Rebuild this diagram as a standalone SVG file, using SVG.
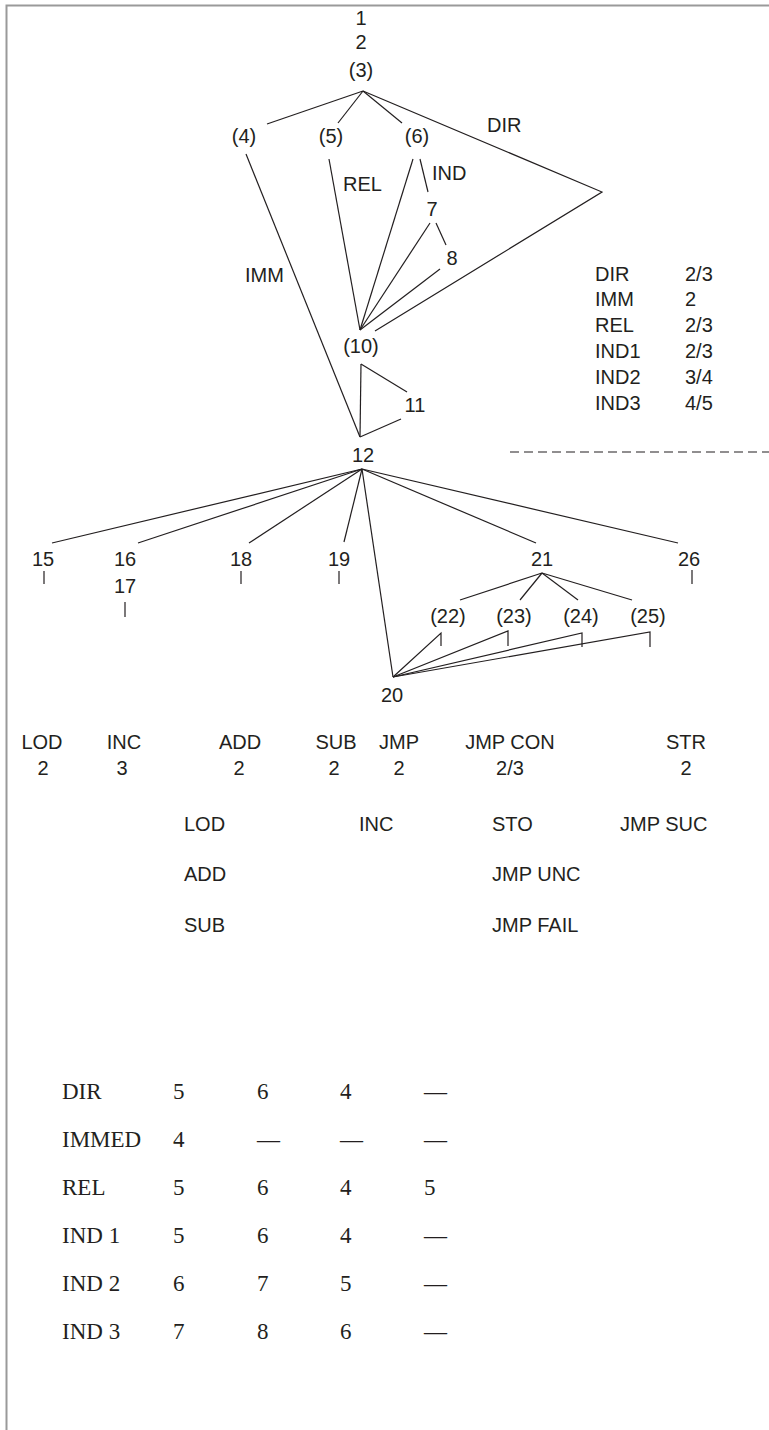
<svg xmlns="http://www.w3.org/2000/svg" width="769" height="1430" viewBox="0 0 769 1430">
<style>
.s{font-family:"Liberation Sans",Arial,sans-serif;font-size:20px;fill:#231f20}
.c{text-anchor:middle}
.t{font-family:"Liberation Serif","Times New Roman",serif;font-size:23px;fill:#231f20}
.ln{stroke:#231f20;stroke-width:1.2;fill:none}
.fr{stroke:#9a9a9a;stroke-width:2;fill:none}
</style>
<rect width="769" height="1430" fill="#fff"/>
<path class="fr" d="M6.5,1430 V5.5 H769"/>
<g id="connectors" class="ln">
<line x1="363" y1="91" x2="267" y2="124"/>
<line x1="363" y1="91" x2="338" y2="123"/>
<line x1="363" y1="91" x2="402" y2="123"/>
<polyline points="363,91 602,192 375,331"/>
<line x1="246" y1="154" x2="360" y2="437"/>
<line x1="329" y1="159" x2="360" y2="330"/>
<line x1="413" y1="159" x2="360" y2="330"/>
<line x1="420" y1="159" x2="428" y2="192"/>
<line x1="430" y1="223" x2="360" y2="330"/>
<line x1="436" y1="223" x2="446" y2="245"/>
<line x1="440" y1="269" x2="360" y2="330"/>
<line x1="361" y1="364" x2="407" y2="392"/>
<line x1="361" y1="364" x2="360" y2="437"/>
<line x1="360" y1="437" x2="401" y2="419"/>
<line x1="362" y1="469" x2="52" y2="543"/>
<line x1="362" y1="469" x2="138" y2="543"/>
<line x1="362" y1="469" x2="249" y2="543"/>
<line x1="362" y1="469" x2="344" y2="542"/>
<line x1="362" y1="469" x2="393" y2="677"/>
<line x1="362" y1="469" x2="536" y2="543"/>
<line x1="362" y1="469" x2="678" y2="543"/>
<line x1="44" y1="571" x2="44" y2="584"/>
<line x1="241" y1="571" x2="241" y2="584"/>
<line x1="339" y1="571" x2="339" y2="584"/>
<line x1="125" y1="602" x2="125" y2="617"/>
<line x1="692" y1="570" x2="692" y2="584"/>
<line x1="542" y1="573" x2="460" y2="600"/>
<line x1="542" y1="573" x2="520" y2="600"/>
<line x1="542" y1="573" x2="578" y2="600"/>
<line x1="542" y1="573" x2="632" y2="600"/>
<polyline points="393,677 441,633 441,646"/>
<polyline points="393,677 508,631 508,646"/>
<polyline points="393,677 582,633 582,647"/>
<polyline points="393,677 650,632 650,647"/>
<line x1="510" y1="452" x2="769" y2="452" stroke-dasharray="9 5"/>
</g>
<g id="n1"><text class="s c" x="361" y="25">1</text></g>
<g id="n2"><text class="s c" x="361" y="49">2</text></g>
<g id="n3"><text class="s c" x="361" y="77">(3)</text></g>
<g id="n4"><text class="s c" x="244" y="143">(4)</text></g>
<g id="n5"><text class="s c" x="331" y="143">(5)</text></g>
<g id="n6"><text class="s c" x="417" y="143">(6)</text></g>
<g id="lbl-dir"><text class="s" x="487" y="132">DIR</text></g>
<g id="lbl-ind"><text class="s" x="432" y="180">IND</text></g>
<g id="lbl-rel"><text class="s" x="343" y="191">REL</text></g>
<g id="n7"><text class="s c" x="432" y="216">7</text></g>
<g id="n8"><text class="s c" x="452" y="265">8</text></g>
<g id="lbl-imm"><text class="s" x="245" y="282">IMM</text></g>
<g id="n10"><text class="s c" x="361" y="353">(10)</text></g>
<g id="n11"><text class="s c" x="415" y="412">11</text></g>
<g id="n12"><text class="s c" x="363" y="462">12</text></g>
<g id="legend">
<text class="s" x="595" y="281">DIR</text><text class="s" x="685" y="281">2/3</text>
<text class="s" x="595" y="306">IMM</text><text class="s" x="685" y="306">2</text>
<text class="s" x="595" y="332">REL</text><text class="s" x="685" y="332">2/3</text>
<text class="s" x="595" y="358">IND1</text><text class="s" x="685" y="358">2/3</text>
<text class="s" x="595" y="384">IND2</text><text class="s" x="685" y="384">3/4</text>
<text class="s" x="595" y="410">IND3</text><text class="s" x="685" y="410">4/5</text>
</g>
<g id="n15"><text class="s c" x="43" y="566">15</text></g>
<g id="n16"><text class="s c" x="125" y="566">16</text></g>
<g id="n17"><text class="s c" x="125" y="593">17</text></g>
<g id="n18"><text class="s c" x="241" y="566">18</text></g>
<g id="n19"><text class="s c" x="339" y="566">19</text></g>
<g id="n21"><text class="s c" x="542" y="566">21</text></g>
<g id="n26"><text class="s c" x="689" y="566">26</text></g>
<g id="n22"><text class="s c" x="448" y="623">(22)</text></g>
<g id="n23"><text class="s c" x="514" y="623">(23)</text></g>
<g id="n24"><text class="s c" x="581" y="623">(24)</text></g>
<g id="n25"><text class="s c" x="648" y="623">(25)</text></g>
<g id="n20"><text class="s c" x="392" y="702">20</text></g>
<g id="ops">
<text class="s c" x="42" y="749">LOD</text><text class="s c" x="43" y="775">2</text>
<text class="s c" x="124" y="749">INC</text><text class="s c" x="122" y="775">3</text>
<text class="s c" x="240" y="749">ADD</text><text class="s c" x="239" y="775">2</text>
<text class="s c" x="336" y="749">SUB</text><text class="s c" x="334" y="775">2</text>
<text class="s c" x="399" y="749">JMP</text><text class="s c" x="399" y="775">2</text>
<text class="s c" x="510" y="749">JMP CON</text><text class="s c" x="510" y="775">2/3</text>
<text class="s c" x="686" y="749">STR</text><text class="s c" x="686" y="775">2</text>
<text class="s" x="184" y="831">LOD</text>
<text class="s" x="359" y="831">INC</text>
<text class="s" x="492" y="831">STO</text>
<text class="s" x="620" y="831">JMP SUC</text>
<text class="s" x="184" y="881">ADD</text>
<text class="s" x="492" y="881">JMP UNC</text>
<text class="s" x="184" y="932">SUB</text>
<text class="s" x="492" y="932">JMP FAIL</text>
</g>
<g id="table">
<text class="t" x="62" y="1099">DIR</text><text class="t" x="173" y="1099">5</text><text class="t" x="257" y="1099">6</text><text class="t" x="340" y="1099">4</text><text class="t" x="424" y="1099">—</text>
<text class="t" x="62" y="1147">IMMED</text><text class="t" x="173" y="1147">4</text><text class="t" x="257" y="1147">—</text><text class="t" x="340" y="1147">—</text><text class="t" x="424" y="1147">—</text>
<text class="t" x="62" y="1195">REL</text><text class="t" x="173" y="1195">5</text><text class="t" x="257" y="1195">6</text><text class="t" x="340" y="1195">4</text><text class="t" x="424" y="1195">5</text>
<text class="t" x="62" y="1243">IND 1</text><text class="t" x="173" y="1243">5</text><text class="t" x="257" y="1243">6</text><text class="t" x="340" y="1243">4</text><text class="t" x="424" y="1243">—</text>
<text class="t" x="62" y="1291">IND 2</text><text class="t" x="173" y="1291">6</text><text class="t" x="257" y="1291">7</text><text class="t" x="340" y="1291">5</text><text class="t" x="424" y="1291">—</text>
<text class="t" x="62" y="1339">IND 3</text><text class="t" x="173" y="1339">7</text><text class="t" x="257" y="1339">8</text><text class="t" x="340" y="1339">6</text><text class="t" x="424" y="1339">—</text>
</g>
</svg>
